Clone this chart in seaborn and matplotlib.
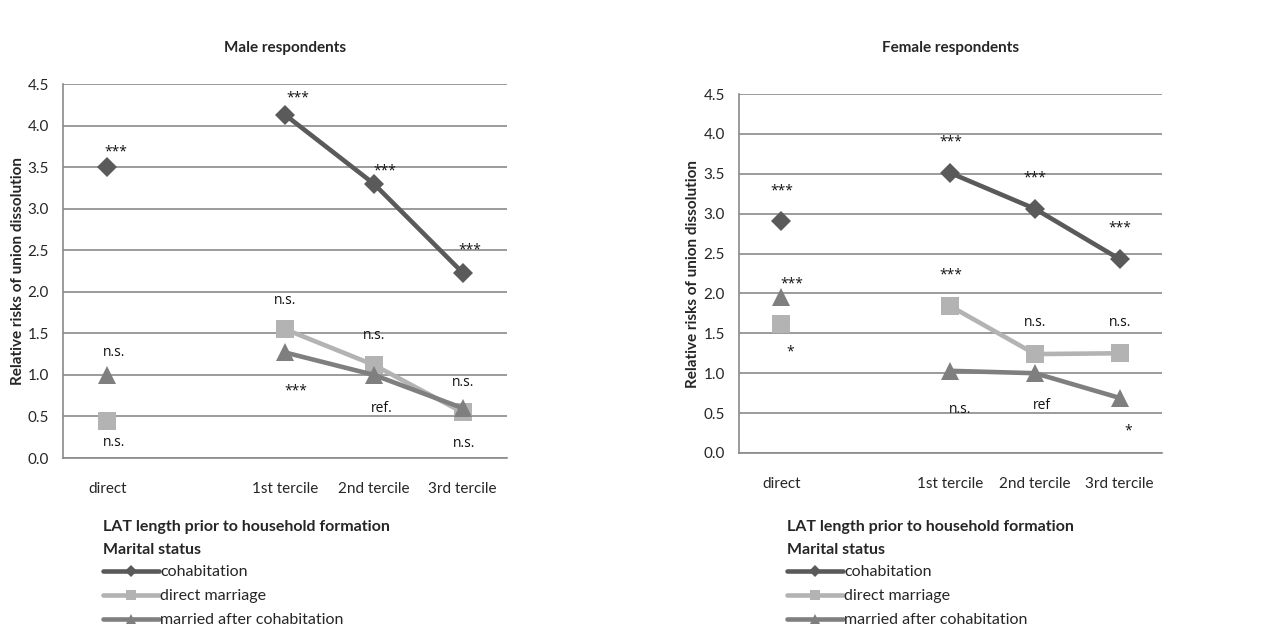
import numpy as np
import pandas as pd
import matplotlib
matplotlib.use("Agg")
import matplotlib.pyplot as plt
import seaborn as sns
from matplotlib.lines import Line2D

# categories on the x axis (second slot is an empty gap)
categories = ["direct", "", "1st tercile", "2nd tercile", "3rd tercile"]
statuses = ["cohabitation", "direct marriage", "married after cohabitation"]

# relative risks, order: direct, gap, 1st, 2nd, 3rd tercile
male_cohab = [3.50, np.nan, 4.13, 3.30, 2.23]
male_direct = [0.44, np.nan, 1.55, 1.12, 0.55]
male_after = [1.00, np.nan, 1.27, 1.00, 0.60]

female_cohab = [2.91, np.nan, 3.51, 3.06, 2.43]
female_direct = [1.62, np.nan, 1.84, 1.24, 1.25]
female_after = [1.95, np.nan, 1.03, 1.00, 0.69]

# significance labels: (text, x in category units, y)
male_notes = [
    ("***", 0.10, 3.73), ("***", 2.14, 4.38), ("***", 3.12, 3.50), ("***", 4.08, 2.55),
    ("n.s.", 2.0, 1.90), ("n.s.", 3.0, 1.47), ("n.s.", 0.08, 1.27), ("n.s.", 0.08, 0.19),
    ("***", 2.12, 0.86), ("ref.", 3.09, 0.60), ("n.s.", 4.0, 0.91), ("n.s.", 4.02, 0.17),
]
female_notes = [
    ("***", 0.01, 3.33), ("***", 0.12, 2.17), ("*", 0.11, 1.32),
    ("***", 2.0, 3.95), ("***", 2.0, 2.28), ("n.s.", 2.11, 0.54),
    ("***", 3.0, 3.50), ("n.s.", 3.0, 1.63), ("ref", 3.08, 0.60),
    ("***", 4.0, 2.87), ("n.s.", 4.0, 1.63), ("*", 4.1, 0.33),
]

colors = {"cohabitation": "#5a5a5a", "direct marriage": "#b3b3b3",
          "married after cohabitation": "#7f7f7f"}
markers = {"cohabitation": "D", "direct marriage": "s",
           "married after cohabitation": "^"}
msizes = {"cohabitation": 10, "direct marriage": 12.5, "married after cohabitation": 13}


def make_frame(series):
    rows = []
    for status, vals in zip(statuses, series):
        for i, v in enumerate(vals):
            if np.isnan(v):
                continue
            seg = "direct" if i == 0 else "terciles"
            rows.append({"pos": i, "rr": v, "status": status, "seg": seg})
    return pd.DataFrame(rows)


sns.set_style("white")
plt.rcParams["font.family"] = ["Lato", "DejaVu Sans"]
grid_col = "#8a8a8a"

fig = plt.figure(figsize=(12.82, 6.34), dpi=100)
ax_m = fig.add_axes([0.0491, 0.2776, 0.3464, 0.5899])
ax_f = fig.add_axes([0.5764, 0.2855, 0.3300, 0.5662])


def draw(ax, series, notes, title, title_y, ylab_x, leg_xy):
    df = make_frame(series)
    for status in statuses:
        sub = df[df.status == status]
        for seg, part in sub.groupby("seg"):
            sns.lineplot(data=part, x="pos", y="rr", ax=ax, color=colors[status],
                         marker=markers[status], markersize=msizes[status],
                         markeredgewidth=0, linewidth=3.3, legend=False,
                         estimator=None, zorder=3)
    ax.set_xlim(-0.5, 4.5)
    ax.set_ylim(0, 4.5)
    ax.set_yticks(np.arange(0, 4.51, 0.5))
    ax.set_yticklabels([f"{t:.1f}" for t in np.arange(0, 4.51, 0.5)], fontsize=11)
    ax.set_xticks(range(len(categories)))
    ax.set_xticklabels(categories, fontsize=11)
    ax.set_xticks(np.arange(-0.5, 4.51, 1), minor=True)
    ax.tick_params(axis="x", which="major", length=0, pad=17)
    ax.tick_params(axis="x", which="minor", length=5, color=grid_col, width=1)
    ax.tick_params(axis="y", length=4, color=grid_col, width=1, pad=6)
    ax.yaxis.grid(True, color=grid_col, linewidth=1.2)
    ax.set_axisbelow(True)
    for s in ["top", "right"]:
        ax.spines[s].set_visible(False)
    for s in ["left", "bottom"]:
        ax.spines[s].set_color(grid_col)
        ax.spines[s].set_linewidth(1.2)
    ax.set_xlabel("")
    ax.set_ylabel("Relative risks of union dissolution", fontsize=11, fontweight="bold")
    ax.yaxis.set_label_coords(ylab_x, 0.5)
    ax.text(0.5, title_y, title, transform=ax.transAxes, ha="center", va="center",
            fontsize=11, fontweight="bold")
    for txt, x, y in notes:
        yy = y - 0.05 if "*" in txt else y
        ax.text(x, yy, txt, ha="center", va="center", fontsize=10, color="#111111",
                family=["Open Sans", "DejaVu Sans"])

    handles = [Line2D([], [], color=colors[s], marker=markers[s], markersize=6.5,
                      markeredgewidth=0, linewidth=3.3) for s in statuses]
    leg = ax.legend(handles, statuses, loc="upper left", bbox_to_anchor=leg_xy,
                    bbox_transform=fig.transFigure, frameon=False, fontsize=11.5,
                    title="LAT length prior to household formation\nMarital status",
                    title_fontproperties={"weight": "bold", "size": 11.5},
                    alignment="left", handlelength=3.5, handletextpad=0.1,
                    labelspacing=0.62, borderpad=0, borderaxespad=0)
    leg.get_title().set_linespacing(1.8)
    leg._legend_box.sep = 6


draw(ax_m, [male_cohab, male_direct, male_after], male_notes,
     "Male respondents", 1.096, -0.086, (103 / 1282, 1 - 520 / 634))
draw(ax_f, [female_cohab, female_direct, female_after], female_notes,
     "Female respondents", 1.128, -0.092, (787 / 1282, 1 - 520 / 634))

fig.savefig("out.png", dpi=100)
